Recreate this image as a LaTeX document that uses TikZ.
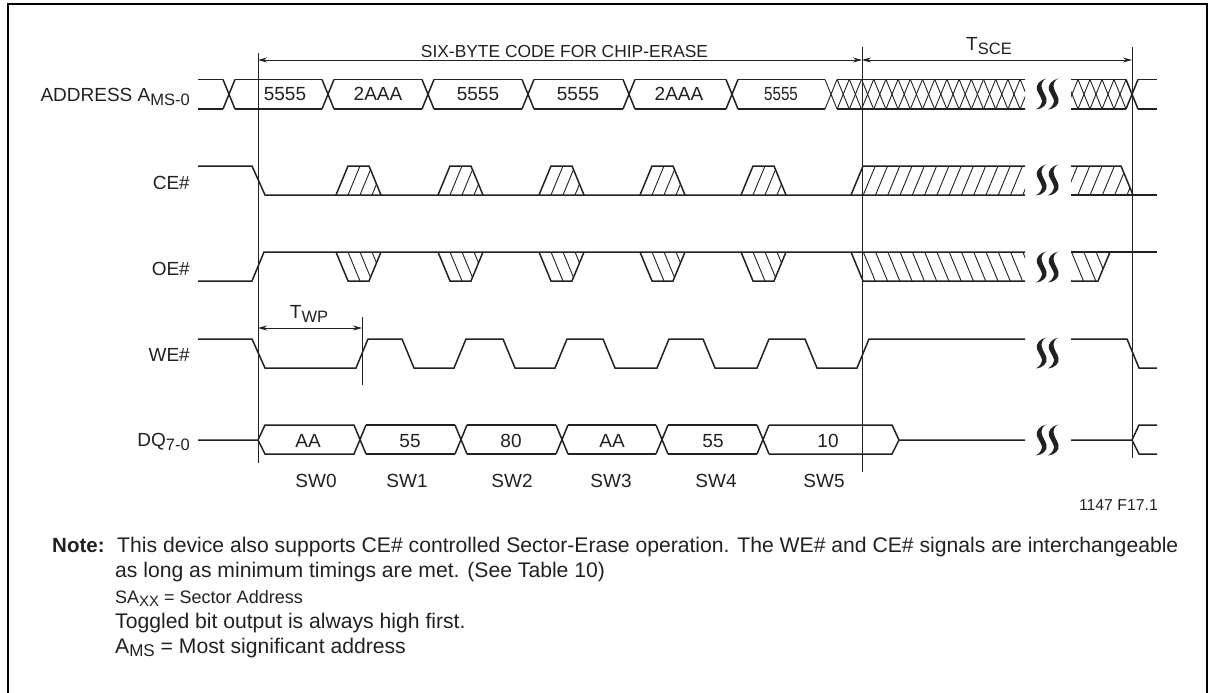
\documentclass[tikz,border=0pt]{standalone}
\usepackage{fontspec}
\setmainfont{Liberation Sans}
\usetikzlibrary{arrows.meta,positioning}
\definecolor{inkgray}{gray}{0.13}
\newcommand{\lblfont}{\fontsize{19}{22}\selectfont}
\newcommand{\notefont}{\fontsize{21.15}{24}\selectfont}
\newcommand{\subtxt}[1]{\raisebox{-4pt}{\fontsize{16.5}{16}\selectfont #1}}
\newcommand{\hatchpulse}[3]{%
  \begin{scope}
    \clip (#1,#2) -- (#1+12,#3) -- (#1+33,#3) -- (#1+45,#2) -- cycle;
    \foreach \k in {12,24,36} \draw[hatchline] (#1+\k,#2) -- (#1+\k+12,#3);
  \end{scope}
  \draw[sigline] (#1,#2) -- (#1+12,#3) -- (#1+33,#3) -- (#1+45,#2);}

\begin{document}
\begin{tikzpicture}[x=1pt,y=-1pt,>={Stealth[length=9pt,width=5pt]},
      sigline/.style={line width=1.5pt,color=inkgray,line join=miter},
      hatchline/.style={line width=.9pt,color=inkgray},
      guide/.style={line width=1pt,color=inkgray},
      dimline/.style={<->,line width=.9pt,color=inkgray},
      every node/.style={font=\lblfont,text=inkgray,inner sep=0pt},
      sigtitle/.style={anchor=east},
      notetext/.style={anchor=base west,font=\notefont},
      pics/breakmark/.style={code={
        \fill[inkgray] (5,-15.5) .. controls (-1,-14.5) and (-6.5,-9) .. (-4.5,-4)
          .. controls (-3.5,-1) and (-1,2) .. (.3,6)
          .. controls (.8,9) and (-1,13) .. (-5.5,15.5)
          .. controls (1,15) and (6.5,10) .. (5,5)
          .. controls (4,1) and (.7,-3) .. (.2,-7)
          .. controls (-.3,-10) and (1,-14) .. (5,-15.5) -- cycle;}}]
     \useasboundingbox (0,0) rectangle (1213,693);
     \draw[line width=2pt,color=black] (8,693) -- (8,4) -- (1207,4) -- (1207,693);

     \node[sigtitle] (addr) at (190,97) {ADDRESS A\subtxt{MS-0}};
     \node[sigtitle] (ce) at (190,183) {CE\#};
     \node[sigtitle] (oe) at (190,269) {OE\#};
     \node[sigtitle] (we) at (190,355) {WE\#};
     \node[sigtitle] (dq) at (190,442) {DQ\subtxt{7-0}};

     \coordinate (code0) at (258,60);
     \coordinate (code1) at (862,60);
     \coordinate (sce1) at (1132,60);
     \coordinate (wp0) at (258,328);
     \coordinate (wp1) at (362,328);
     \draw[guide] (258,53) -- (258,463);
     \draw[guide] (862,47) -- (862,472);
     \draw[guide] (1132,47) -- (1132,458);
     \draw[guide] (362,317) -- (362,385);
     \draw[dimline] (code0) -- (code1);
     \draw[dimline] (code1) -- (sce1);
     \draw[dimline] (wp0) -- (wp1);
     \node[font=\fontsize{17.4}{20}\selectfont] (codelbl) at (564.5,51.5) {SIX-BYTE CODE FOR CHIP-ERASE};
     \node (scelbl) at (989,46) {T\subtxt{SCE}};
     \node (wplbl) at (309,314) {T\subtxt{WP}};

     \foreach \a/\b in {198/223,235/322,334/422,434/522,534/623,635/726,738/825,1138/1157} {
       \draw[sigline] (\a,79.5) -- (\b,79.5);
       \draw[sigline] (\a,109) -- (\b,109);
     }
     \foreach \c in {229,328,428,528,629,732,1132} {
       \draw[sigline] (\c-6,79.5) -- (\c+6,109);
       \draw[sigline] (\c-6,109) -- (\c+6,79.5);
     }
     \begin{scope}
       \clip (820,70) rectangle (1025,120);
       \draw[sigline] (837,79.5) -- (1030,79.5);
       \draw[sigline] (837,109) -- (1030,109);
       \foreach \k in {0,...,16} {
         \draw[hatchline] (831+12.2*\k-6,79.5) -- (831+12.2*\k+6,109);
         \draw[hatchline] (831+12.2*\k-6,109) -- (831+12.2*\k+6,79.5);
       }
     \end{scope}
     \begin{scope}
       \clip (1071,70) rectangle (1133,120);
       \draw[sigline] (1065,79.5) -- (1126,79.5);
       \draw[sigline] (1065,109) -- (1126,109);
       \foreach \k in {1,...,5} {
         \draw[hatchline] (1132-12*\k-6,79.5) -- (1132-12*\k+6,109);
         \draw[hatchline] (1132-12*\k-6,109) -- (1132-12*\k+6,79.5);
       }
     \end{scope}
     \node (a0) at (285,94) {5555};
     \node (a1) at (378,94) {2AAA};
     \node (a2) at (478,94) {5555};
     \node (a3) at (578,94) {5555};
     \node (a4) at (679,94) {2AAA};
     \node (a5) at (781,94) {\scalebox{.8}[1]{5555}};

     \draw[sigline] (198,166) -- (252,166) -- (265,195) -- (1025,195);
     \draw[sigline] (1071,195) -- (1157,195);
     \foreach \x in {336,438,539,640,741} \hatchpulse{\x}{195}{166};
     \begin{scope}
       \clip (851,195) -- (863,166) -- (1025,166) -- (1025,195) -- cycle;
       \foreach \k in {1,...,15} \draw[hatchline] (851+12.27*\k,195) -- (863+12.27*\k,166);
     \end{scope}
     \draw[sigline] (851,195) -- (863,166) -- (1025,166);
     \begin{scope}
       \clip (1071,195) -- (1071,166) -- (1121,166) -- (1133,195) -- cycle;
       \foreach \k in {0,...,5} \draw[hatchline] (1065.5+12.3*\k,195) -- (1077.5+12.3*\k,166);
     \end{scope}
     \draw[sigline] (1071,166) -- (1121,166) -- (1133,195);

     \draw[sigline] (198,281) -- (252,281) -- (264,252) -- (1025,252);
     \draw[sigline] (1071,252) -- (1157,252);
     \foreach \x in {336,438,539,640,741} \hatchpulse{\x}{252}{281};
     \begin{scope}
       \clip (851,252) -- (863,281) -- (1025,281) -- (1025,252) -- cycle;
       \foreach \k in {1,...,15} \draw[hatchline] (851+12.27*\k,252) -- (863+12.27*\k,281);
     \end{scope}
     \draw[sigline] (851,252) -- (863,281) -- (1025,281);
     \begin{scope}
       \clip (1071,252) -- (1071,281) -- (1098,281) -- (1110,252) -- cycle;
       \foreach \k in {-1,...,3} \draw[hatchline] (1071.5+12.3*\k,252) -- (1083.5+12.3*\k,281);
     \end{scope}
     \draw[sigline] (1071,281) -- (1098,281) -- (1110,252);

     \draw[sigline] (198,339) -- (252,339) -- (265,368) -- (356,368) -- (368,339) -- (402,339) -- (414,368)
       -- (454,368) -- (466,339) -- (503,339) -- (515,368) -- (555,368) -- (567,339) -- (603,339) -- (615,368)
       -- (657,368) -- (669,339) -- (703,339) -- (715,368) -- (757,368) -- (769,339) -- (805,339) -- (817,368)
       -- (857,368) -- (869,339) -- (1025,339);
     \draw[sigline] (1071,339) -- (1127,339) -- (1139,368) -- (1157,368);

     \draw[sigline] (198,440) -- (258,440) -- (265,425) -- (354,425) -- (366,454);
     \draw[sigline] (258,440) -- (265,454) -- (354,454) -- (366,425);
     \foreach \a/\b in {366/455,467/556,568/656,668/757} {
       \draw[sigline] (\a,425) -- (\b,425);
       \draw[sigline] (\a,454) -- (\b,454);
       \draw[sigline] (\b,425) -- (\b+12,454);
       \draw[sigline] (\b,454) -- (\b+12,425);
     }
     \draw[sigline] (769,425) -- (892,425) -- (899,440) -- (1025,440);
     \draw[sigline] (769,454) -- (892,454) -- (899,440);
     \draw[sigline] (1071,440) -- (1132,440) -- (1139,425) -- (1157,425);
     \draw[sigline] (1132,440) -- (1139,454) -- (1157,454);
     \node (d0) at (308,441) {AA};
     \node (d1) at (410,441) {55};
     \node (d2) at (511,441) {80};
     \node (d3) at (612,441) {AA};
     \node (d4) at (713,441) {55};
     \node (d5) at (828,441) {10};

     \foreach \yy in {94,180,267,353,440} {
       \pic at (1041.5,\yy) {breakmark};
       \pic at (1053.5,\yy) {breakmark};
     }

     \node (sw0) at (316,481) {SW0};
     \node (sw1) at (407,481) {SW1};
     \node (sw2) at (512,481) {SW2};
     \node (sw3) at (611,481) {SW3};
     \node (sw4) at (716,481) {SW4};
     \node (sw5) at (824,481) {SW5};
     \node[anchor=east,font=\fontsize{15.8}{18}\selectfont] (figid) at (1158,505) {1147 F17.1};

     \node[notetext,font=\fontsize{20.5}{24}\selectfont\bfseries] (notehd) at (52,552) {Note:};
     \node[notetext] (note1) at (117,552) {This device also supports CE\# controlled Sector-Erase operation. The WE\# and CE\# signals are interchangeable};
     \node[notetext] (note2) at (115,577) {as long as minimum timings are met. (See Table 10)};
     \node[notetext,font=\fontsize{18}{20}\selectfont] (note3) at (115,603) {SA\raisebox{-3pt}{\fontsize{15}{15}\selectfont XX} = Sector Address};
     \node[notetext] (note4) at (115,628) {Toggled bit output is always high first.};
     \node[notetext] (note5) at (115,653) {A\raisebox{-3pt}{\fontsize{17}{15}\selectfont MS} = Most significant address};
    \end{tikzpicture}
\end{document}
